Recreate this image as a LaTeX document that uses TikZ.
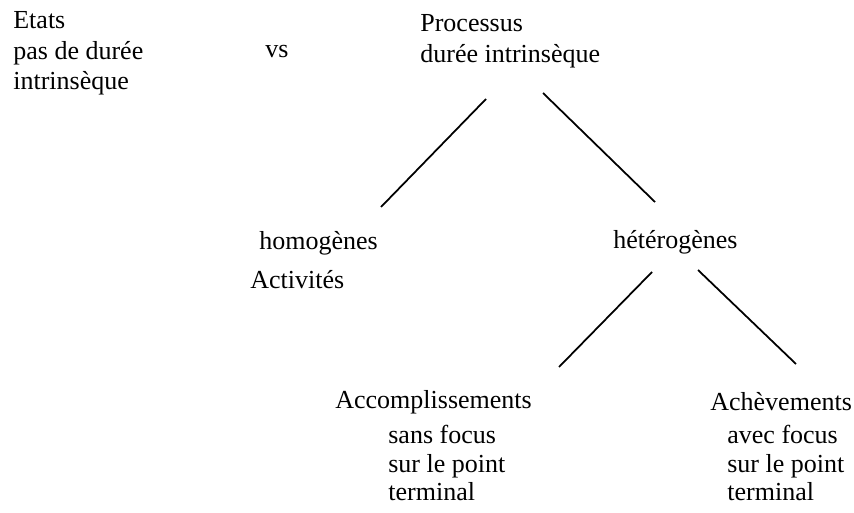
\documentclass[tikz,border=0pt]{standalone}
\usepackage{fontspec}
\setmainfont{Liberation Serif}
\begin{document}
\begin{tikzpicture}[x=0.02cm,y=-0.02cm,
	every node/.style={anchor=base west,inner sep=0pt,font=\fontsize{14.8}{17}\selectfont},
	branch/.style={line width=1pt}]
	\useasboundingbox (0,0) rectangle (854,513);
	
	%top row
	\node (etats) at (13,29) 		{Etats};
	\node (etatsA) at (13,60) 		{pas de durée};
	\node (etatsB) at (13,90) 		{intrinsèque};
	\node (vs) at (265,58) 			{vs};
	\node (proc) at (420,32) 		{Processus};
	\node (procA) at (420,63) 		{durée intrinsèque};
	
	%middle row
	\node (homo) at (259,249) 		{homogènes};
	\node (activ) at (250,288) 		{Activités};
	\node (hetero) at (613,248) 	{hétérogènes};
	
	%bottom row
	\node (accomp) at (335,408) 	{Accomplissements};
	\node (accompA) at (388,443) 	{sans focus};
	\node (accompB) at (388,472) 	{sur le point};
	\node (accompC) at (388,500) 	{terminal};
	\node (achev) at (710,410) 		{Achèvements};
	\node (achevA) at (727,443) 	{avec focus};
	\node (achevB) at (727,472) 	{sur le point};
	\node (achevC) at (727,500) 	{terminal};
	
	%line ends
	\coordinate (procL) at (486,99);	%below Processus, left
	\coordinate (procR) at (543,93);	%below Processus, right
	\coordinate (homoT) at (381,207);	%above homogènes
	\coordinate (heteT) at (655,202);	%above hétérogènes
	\coordinate (heteL) at (652,272);	%below hétérogènes, left
	\coordinate (heteR) at (698,270);	%below hétérogènes, right
	\coordinate (accT) at (559,367);	%above Accomplissements
	\coordinate (achT) at (796,364);	%above Achèvements
	
	%branches
	\draw[branch] (procL) -- (homoT);
	\draw[branch] (procR) -- (heteT);
	\draw[branch] (heteL) -- (accT);
	\draw[branch] (heteR) -- (achT);
\end{tikzpicture}
\end{document}
